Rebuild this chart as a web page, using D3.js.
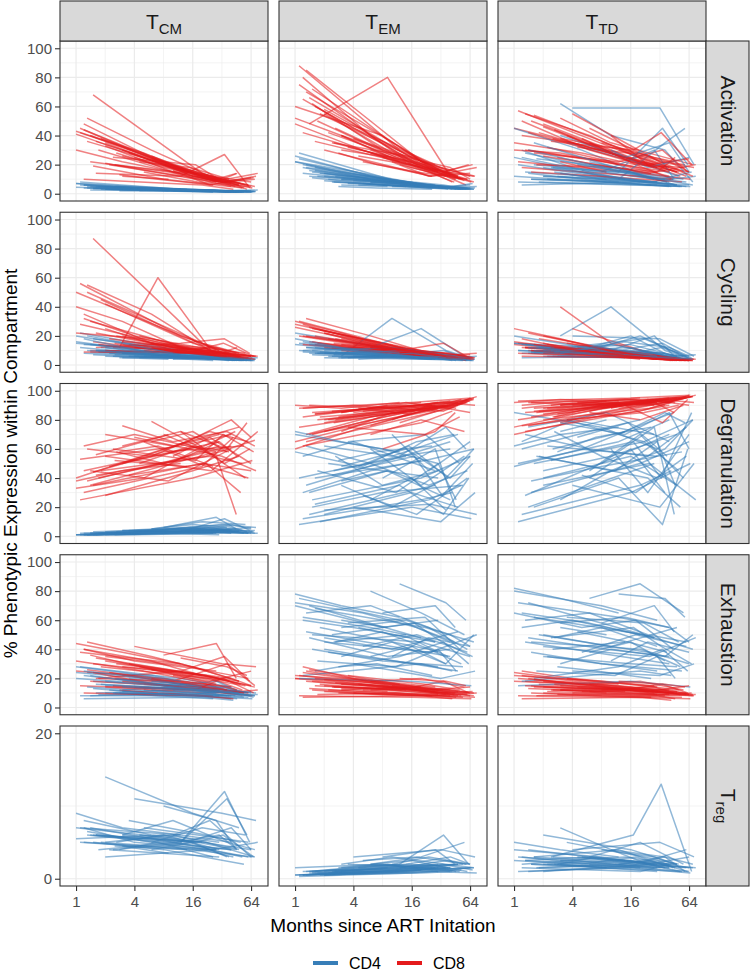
<!DOCTYPE html>
<html><head><meta charset="utf-8">
<script src="https://cdn.jsdelivr.net/npm/d3@7"></script>
<style>body{margin:0;background:#fff} svg{display:block} text{font-family:"Liberation Sans",Arial,sans-serif}</style>
</head><body><svg id="c" width="750" height="973"></svg>
<script>
// ---------- categories & ticks ----------
const compartments = ["CM", "EM", "TD"];
const phenotypes = ["Activation", "Cycling", "Degranulation", "Exhaustion", "Treg"];
const cellTypes = ["CD4", "CD8"];
const cellColors = ["#377EB8", "#E41A1C"];
const xTicks = [1, 4, 16, 64];
const xMinor = [2, 8, 32];
const yTicksPct = [0, 20, 40, 60, 80, 100];
const yMinorPct = [10, 30, 50, 70, 90];
const yTicksTreg = [0, 20];
const yMinorTreg = [10];

// months since ART initiation for each participant
const months = [
 [1.1,12,40],[1.3,6,24,60],[1.5,20,64],[1,8,30],[2,16,48],[1.2,4,28],[3,10,36,70],[1.8,24,52],
 [2.5,14],[1,5,18,44],[4,32,72],[1.4,9,40],[6,20,56],[2.2,30],[1.6,12,34,62],[3.5,22,50],
 [1.1,16,66],[8,28,45],[2.8,7,26],[1.3,40],[5,18,60],[12,36,58],[1.7,11,30,46],[2,25,75],
 [4.5,15,38],[1.2,20,42],[3,9],[10,24,64],[1.5,8,54],[2.4,17,33,68],
 [1.2,6,20],[2,10,48],[1.4,28],[3,14,40,64],[1,3,12],[6,16,36],[1.6,22,70],[2.6,8,30]
];

// ---------- Activation ----------
const activationCM_CD4 = [[8,3,2],[5,3,2,1.5],[4,2,1.5],[7,4,2],[3,2.5,1],[6,4,2],[4,3,2,1.5],[3,2,1],[5,3],[4.5,3,2,1.5],[3,2,1.5],[2.5,2,1],[4,2,1.5],[3,2],[5,3,2,1.5],[3,2,1],[6,2,1],[3,2,1.5],[2,2,1],[4,2],[3,2,1.5],[2.5,2,1.5],[5,3,2,1],[3,2,2.5],[2,2,1],[4,2,1.5],[3,2],[2,1.5,1],[3.5,2,1],[4,3,2,1.5],
 [6,3,2],[4,2,1.5],[5,2],[3,2,1.5,2],[7,5,3],[3,2,1.5],[4,2,1.5],[5,3,2]];
const activationCM_CD8 = [[42,18,8],[52,30,12,6],[68,14,5],[41,20,9],[35,12,6],[44,30,10],[30,18,8,10],[38,10,4],[20,14],[43,28,12,5],[25,8,12],[22,15,5],[26,12,6],[20,8],[14,12,27,4],[28,10,7],[45,12,4],[20,10,14],[13,10,6],[36,7],[15,8,5],[18,9,3],[30,14,9,14],[21,8,14],[22,18,10],[10,6,3],[12,10],[16,6,11],[19,10,4],[25,20,8,11],
 [48,25,12],[33,15,6],[40,8],[26,15,10,8],[30,22,14],[24,14,8],[36,12,5],[28,18,10]];
const activationEM_CD4 = [[28,8,4],[20,12,6,4],[15,6,3],[26,10,5],[12,7,4],[18,12,6],[10,8,5,3],[14,6,3],[8,5],[22,14,7,4],[9,5,4],[12,8,4],[8,6,3],[10,5],[16,9,6,3],[7,5,3],[24,6,3],[6,5,4],[5,4,3],[18,4],[7,5,3],[6,4,3],[12,8,5,3],[9,4,5],[6,5,3],[14,6,3],[6,5],[5,4,6],[11,6,3],[8,6,4,7],
 [20,10,5],[14,8,4],[16,5],[10,7,5,4],[22,15,8],[8,6,4],[18,6,3],[12,8,5]];
const activationEM_CD8 = [[88,30,15],[85,50,18,10],[72,22,12],[60,40,15],[58,25,12],[65,45,20],[40,25,15,12],[55,20,10],[35,22],[48,30,18,8],[38,18,12],[48,80,12],[30,18,9],[42,15],[36,22,15,20],[32,20,10],[75,20,8],[25,15,10],[28,20,12],[70,12],[22,15,10],[20,12,6],[50,25,15,10],[30,12,18],[26,20,12],[42,18,8],[30,25],[22,12,14],[62,30,10],[35,25,15,20],
 [80,40,18],[55,28,12],[66,15],[40,25,18,10],[52,40,22],[28,18,12],[60,18,8],[45,30,15]];
const activationTD_CD4 = [[20,10,6],[15,12,8,5],[10,8,6],[25,12,8],[12,10,6],[30,18,10],[62,40,30,8],[8,6,5],[18,10],[45,30,15,10],[59,59,20],[14,8,5],[22,15,10],[10,6],[20,15,45,20],[35,20,12],[8,6,5],[15,30,10],[12,10,6],[28,8],[16,12,8],[10,35,45],[24,18,10,6],[12,8,12],[20,15,8],[6,8,5],[14,10],[30,18,25],[10,8,5],[18,14,10,15],
 [25,15,8],[18,12,6],[30,10],[40,25,35,15],[12,10,8],[20,15,10],[35,12,6],[15,10,8]];
const activationTD_CD8 = [[57,30,18],[55,40,22,12],[50,22,15],[45,30,18],[48,25,15],[40,35,20],[52,35,25,20],[42,20,12],[38,25],[35,28,20,10],[55,22,18],[30,22,12],[45,28,15],[32,15],[28,22,30,15],[40,20,15],[22,15,10],[35,25,22],[25,20,14],[30,15],[38,20,18],[30,22,20],[20,18,15,25],[26,14,20],[32,28,18],[18,12,10],[22,15],[40,20,24],[15,12,8],[36,30,42,20],
 [50,30,20],[46,28,15],[42,18],[38,30,22,15],[30,28,20],[35,22,16],[54,25,12],[44,30,18]];

// ---------- Cycling ----------
const cyclingCM_CD4 = [[22,10,5],[20,12,6,4],[18,8,4],[15,10,6],[10,8,5],[14,12,6],[8,7,6,4],[12,6,3],[7,6],[16,10,6,3],[6,5,4],[9,6,4],[7,5,4],[8,5],[10,8,6,4],[6,5,3],[12,5,3],[6,5,4],[5,5,3],[10,4],[6,5,3],[5,4,3],[9,7,5,3],[6,4,5],[5,5,3],[8,5,3],[5,4],[4,5,3],[7,5,3],[6,5,4,3],
 [18,8,5],[12,6,4],[14,4],[8,6,5,4],[20,15,7],[6,5,4],[10,5,3],[9,7,5]];
const cyclingCM_CD8 = [[56,20,8],[55,35,10,5],[87,15,6],[50,25,10],[42,15,8],[32,20,10],[20,12,8,6],[45,10,5],[15,10],[22,18,10,5],[12,8,6],[10,9,7],[15,12,8],[18,8],[12,15,18,8],[14,10,6],[28,10,5],[10,12,8],[12,60,8],[50,6],[10,9,5],[12,8,4],[14,10,8,12],[10,8,6],[20,12,8],[9,8,4],[14,10],[8,10,6],[16,10,4],[12,10,15,6],
 [35,15,8],[25,10,5],[30,6],[16,12,8,6],[40,30,12],[12,8,6],[22,8,4],[20,14,8]];
const cyclingEM_CD4 = [[15,8,4],[12,10,6,3],[10,6,4],[22,12,6],[8,10,5],[10,12,6],[6,32,10,4],[9,6,4],[7,6],[14,10,8,4],[6,5,4],[8,6,4],[12,25,6],[6,5],[8,7,10,4],[5,6,4],[10,5,3],[6,8,5],[5,6,4],[12,4],[6,8,4],[10,6,4],[8,6,5,3],[5,4,6],[4,6,4],[9,6,3],[5,6],[6,4,5],[7,5,3],[6,5,6,3],
 [16,8,5],[10,12,6],[14,4],[8,10,6,5],[18,12,8],[6,8,5],[12,5,3],[9,7,5]];
const cyclingEM_CD8 = [[30,12,5],[32,20,8,4],[25,10,5],[28,15,6],[22,10,5],[20,15,8],[18,12,8,5],[24,8,4],[15,10],[26,16,8,4],[14,8,5],[16,10,6],[12,9,5],[18,6],[14,10,15,5],[12,8,5],[20,8,4],[10,8,5],[12,9,6],[20,5],[10,8,4],[12,6,3],[15,10,7,5],[12,6,8],[10,9,6],[14,8,4],[10,8],[8,6,7],[16,8,4],[12,10,8,5],
 [28,15,6],[22,10,5],[26,6],[14,10,8,5],[30,22,10],[12,10,6],[20,8,4],[18,12,7]];
const cyclingTD_CD4 = [[10,8,5],[12,10,8,4],[8,6,4],[15,12,6],[10,14,6],[8,10,5],[20,40,10,4],[12,8,5],[6,5],[15,10,8,4],[20,18,6],[8,7,5],[10,20,6],[6,5],[8,10,15,5],[12,18,8],[10,6,4],[8,20,6],[6,8,5],[14,5],[8,10,6],[10,8,4],[12,10,8,4],[6,5,7],[10,12,6],[5,6,4],[8,10],[6,8,5],[9,7,4],[10,8,12,5],
 [14,10,6],[10,14,6],[12,5],[8,16,12,6],[20,15,8],[12,20,8],[10,6,4],[9,12,6]];
const cyclingTD_CD8 = [[15,8,4],[12,10,5,3],[10,6,3],[14,8,4],[20,8,4],[12,10,5],[40,15,6,3],[18,6,3],[10,6],[16,10,6,3],[25,6,4],[10,8,4],[12,6,3],[14,5],[10,8,6,3],[15,7,4],[8,5,3],[8,6,4],[10,8,5],[12,4],[9,6,3],[8,5,3],[10,8,6,3],[8,5,4],[12,8,4],[6,5,3],[9,7],[8,6,3],[10,6,3],[12,9,6,3],
 [18,8,4],[15,7,3],[22,4],[10,8,5,3],[25,18,8],[9,6,4],[14,5,3],[12,8,4]];

// ---------- Degranulation ----------
const degranulationCM_CD4 = [[2,3,4],[1,2,3,2],[3,5,2],[1,2,1],[2,4,3],[1,1,2],[4,3,5,2],[2,6,4],[1,3],[1,2,4,3],[3,8,6],[2,4,2],[5,10,8],[2,4],[1,3,12,4],[4,6,3],[1,2,3],[6,13,5],[2,3,2],[1,4],[3,5,2],[4,7,3],[2,3,5,3],[1,3,2],[3,6,4],[2,2,3],[2,4],[5,4,6],[1,3,2],[2,4,6,3],
 [1,2,3],[3,5,4],[2,3],[4,6,8,5],[1,1,2],[5,8,6],[2,3,4],[3,4,3]];
const degranulationCM_CD8 = [[53,62,70],[60,55,72,65],[35,50,45],[40,60,70],[28,45,55],[62,70,58],[76,65,72,62],[45,55,50],[52,48],[33,40,60,72],[68,55,45],[45,38,60],[79,60,40],[48,65],[56,72,50,60],[42,50,30],[25,40,52],[70,55,15],[58,62,48],[38,62],[65,50,40],[72,60,78],[40,52,65,55],[55,45,72],[50,62,58],[30,48,68],[62,70],[55,68,50],[44,58,62],[60,52,70,58],
 [45,55,62],[70,62,75],[35,58],[50,65,80,68],[38,45,50],[65,72,58],[42,55,66],[58,50,62]];
const degranulationEM_CD4 = [[40,55,60],[62,50,35,45],[25,40,55],[70,60,50],[15,30,20],[55,65,45],[35,20,40,60],[10,25,35],[45,55],[58,48,65,70],[20,10,30],[30,45,25],[60,35,55],[50,40],[22,35,15,40],[65,70,50],[8,20,12],[40,60,20],[52,58,62],[35,65],[28,15,40],[55,75,60],[45,30,50,25],[18,22,15],[48,62,40],[12,25,30],[38,45],[70,45,65],[20,30,35],[42,55,28,50],
 [30,45,52],[62,55,70],[15,35],[48,60,40,55],[72,65,58],[25,40,18],[40,52,60],[55,35,45]];
const degranulationEM_CD8 = [[75,85,90],[70,82,88,92],[85,90,93],[65,80,88],[80,88,92],[88,90,86],[72,85,90,95],[82,88,94],[78,86],[60,75,85,90],[85,92,90],[90,88,93],[70,80,72],[80,88],[84,90,86,93],[75,70,82],[88,92,95],[60,72,85],[82,86,90],[65,88],[86,90,94],[78,88,92],[80,85,90,88],[72,86,96],[88,84,90],[62,78,86],[85,90],[80,90,85],[70,82,92],[86,90,88,94],
 [82,88,92],[78,86,90],[70,90],[85,92,88,95],[90,88,92],[76,84,90],[84,90,94],[80,86,92]];
const degranulationTD_CD4 = [[50,65,80],[70,60,55,75],[30,50,65],[85,75,60],[40,55,35],[65,80,70],[25,45,60,80],[55,40,20],[60,72],[48,60,75,85],[35,20,50],[75,85,65],[45,70,40],[62,55],[20,40,8,60],[80,65,45],[10,30,50],[50,75,15],[58,68,75],[28,70],[42,30,55],[70,85,78],[55,45,65,35],[35,50,25],[68,78,55],[15,35,45],[72,80],[60,30,70],[38,48,58],[52,65,40,85],
 [60,72,80],[45,55,70],[20,50],[78,70,85,60],[62,70,75],[40,60,30],[50,65,80],[72,55,40]];
const degranulationTD_CD8 = [[80,90,94],[85,88,92,95],[92,94,96],[75,88,92],[88,92,95],[90,93,90],[78,86,92,96],[86,92,95],[82,90],[70,80,88,93],[90,94,92],[92,90,95],[85,80,90],[88,92],[86,92,78,94],[80,85,90],[93,95,97],[88,92,85],[84,88,92],[72,90],[90,93,96],[88,92,95],[85,90,93,92],[80,88,97],[92,90,94],[76,86,92],[90,93],[88,94,90],[82,90,95],[90,94,92,96],
 [88,93,95],[84,90,94],[76,92],[90,94,92,97],[92,94,93],[86,92,90],[88,93,96],[82,90,94]];

// ---------- Exhaustion ----------
const exhaustionCM_CD4 = [[28,20,14],[24,22,15,10],[18,14,10],[20,16,12],[15,12,10],[22,18,12],[12,14,10,8],[16,12,8],[10,9],[24,20,14,8],[14,12,10],[8,10,6],[18,14,10],[12,8],[10,12,14,8],[20,15,10],[8,8,6],[15,18,12],[10,8,6],[14,8],[12,10,7],[16,14,10],[9,8,7,6],[10,8,9],[14,12,8],[6,7,5],[11,9],[12,10,11],[13,9,7],[10,9,12,7],
 [25,20,14],[18,14,10],[22,10],[14,12,10,8],[28,24,18],[12,10,8],[16,12,8],[20,16,12]];
const exhaustionCM_CD8 = [[38,30,20],[45,35,25,20],[30,22,15],[25,20,12],[35,28,18],[40,32,25],[22,18,30,15],[28,20,12],[20,16],[32,25,18,10],[42,30,28],[18,15,10],[26,20,15],[24,12],[20,25,35,18],[30,22,16],[15,12,8],[36,44,20],[12,10,8],[26,14],[16,14,10],[34,28,22],[20,18,15,12],[14,10,12],[28,22,18],[10,8,6],[18,15],[22,18,25],[24,15,10],[15,12,20,10],
 [40,32,22],[32,25,18],[36,16],[28,24,20,15],[44,38,30],[20,16,12],[34,22,14],[30,26,20]];
const exhaustionEM_CD4 = [[75,60,45],[65,70,55,40],[50,45,35],[70,55,60],[40,30,25],[60,55,45],[35,45,30,50],[55,40,30],[45,50],[72,65,55,45],[30,20,25],[48,35,40],[80,65,50],[38,28],[25,35,45,30],[58,62,40],[20,18,15],[65,70,55],[28,30,22],[52,35],[42,50,38],[85,72,60],[32,28,40,25],[45,38,50],[55,48,35],[22,30,25],[60,55],[35,48,42],[40,32,28],[50,58,45,35],
 [62,55,48],[48,40,52],[70,45],[55,60,50,42],[78,70,62],[35,42,30],[68,55,45],[45,52,38]];
const exhaustionEM_CD8 = [[22,15,12],[25,18,12,10],[18,12,8],[20,15,10],[15,12,8],[28,20,14],[12,14,10,8],[16,10,8],[14,12],[20,18,12,9],[10,8,7],[13,10,8],[18,20,14],[12,9],[15,12,18,10],[22,16,12],[8,7,6],[14,12,10],[10,9,8],[18,10],[12,14,9],[20,18,15],[9,10,8,7],[11,8,10],[16,12,10],[7,8,6],[13,11],[15,12,14],[12,9,7],[14,12,10,11],
 [24,18,14],[19,14,11],[26,12],[16,14,12,10],[22,20,16],[12,11,9],[20,14,10],[17,15,12]];
const exhaustionTD_CD4 = [[72,62,55],[60,65,50,45],[45,40,30],[80,70,60],[35,30,28],[55,60,48],[30,40,35,50],[50,38,28],[40,45],[65,55,60,40],[25,22,30],[48,40,35],[75,85,65],[35,25],[20,28,40,25],[62,58,45],[15,18,14],[58,70,52],[28,25,20],[45,30],[38,50,42],[78,75,62],[25,22,35,20],[42,35,48],[52,45,38],[18,25,22],[55,50],[32,45,38],[38,30,25],[48,55,42,30],
 [65,58,50],[50,42,55],[72,48],[58,62,55,45],[82,75,65],[38,45,32],[62,50,40],[48,55,42]];
const exhaustionTD_CD8 = [[20,15,12],[18,16,12,10],[15,12,9],[22,18,14],[14,12,10],[25,20,15],[12,13,10,8],[16,12,9],[12,11],[18,16,12,10],[10,9,8],[13,11,9],[16,18,12],[11,9],[14,12,16,10],[20,15,12],[8,7,6],[12,14,10],[9,8,7],[15,10],[11,12,9],[18,16,14],[8,9,8,6],[10,8,9],[14,12,10],[6,7,5],[12,10],[13,11,15],[10,8,7],[12,11,9,10],
 [22,17,13],[18,14,11],[20,10],[15,13,12,9],[24,20,16],[11,10,8],[19,13,9],[16,14,11]];

// ---------- Treg (CD4 only) ----------
const tregCM_CD4 = [[7,6,5],[6.5,5,4,3],[6,5,4],[5.5,6,4],[14,9,7],[7,5,4],[6,8,5,4],[5,4,3],[4.5,4],[7,6,5,4],[11,9,8],[6,5,4],[5,7,6],[4,3],[6,5,12,5],[8,6,5],[5,4,3],[10,8,4],[4,5,3],[6,4],[7,6,5],[5,11,6],[4,5,6,4],[3,4,5],[6,5,3],[5,4,3],[4.5,3.5],[6,8,3],[5,4,2],[4,5,6,3],
 [8,6,5],[5,6,4],[7,4],[6,5,7,4],[9,7,6],[4,5,3],[6,5,3],[5,6,5]];
const tregEM_CD4 = [[0.5,1,1.5],[1,1.5,2,1],[0.8,1.2,1.5],[1.5,2,1],[0.5,1,2],[1,1.2,1.5],[2,3,2,1.5],[0.5,1,1.2],[1,1.5],[0.5,0.8,1.5,2],[3,4,3],[1,2,1],[2,3,5],[0.8,1.5],[1,2,6,2],[2,1.5,1],[0.3,0.8,1.5],[3,4,2],[1.5,2,1.5],[0.5,1.5],[2.5,3,2],[1.5,2.5,2],[0.8,1,1.5,1],[0.5,1,0.8],[1.5,2,1.5],[0.5,0.8,1],[1,1.5],[2,3,2],[1,1.5,2],[1,1.5,2,1.2],
 [0.5,1,1.2],[1,1.5,2],[0.8,1.5],[1.5,2,3,2],[0.5,0.8,1],[2,2.5,1.5],[0.6,1.2,1.5],[1,1.5,2]];
const tregTD_CD4 = [[3,2,1.5],[2.5,3,2,1.5],[2,1.5,1],[4,3,2],[6,4,2],[2,2.5,1.5],[7,4,3,2],[1.5,2,1],[3,2.5],[2.5,2,3,1.5],[4,5,3],[1,1.5,2],[3,5,2],[2,1.5],[3,4,2,1],[5,3,2],[1,1.5,0.8],[4,3,2],[2,3,2],[2.5,1.5],[3,2,4],[2,3,1],[1.5,2,2.5,1.5],[1,2,1.5],[3,2.5,2],[1.5,1,2],[2,1.5],[4,2,3],[2,1.5,1],[3,6,13,1],
 [3,2,1.5],[2,2.5,2],[4,2],[2.5,3,2,1.5],[5,4,3],[2,2.5,1.5],[3,2,1.5],[2,1.5,1]];

const series = {
  Activation:    {CM:[activationCM_CD4, activationCM_CD8], EM:[activationEM_CD4, activationEM_CD8], TD:[activationTD_CD4, activationTD_CD8]},
  Cycling:       {CM:[cyclingCM_CD4, cyclingCM_CD8], EM:[cyclingEM_CD4, cyclingEM_CD8], TD:[cyclingTD_CD4, cyclingTD_CD8]},
  Degranulation: {CM:[degranulationCM_CD4, degranulationCM_CD8], EM:[degranulationEM_CD4, degranulationEM_CD8], TD:[degranulationTD_CD4, degranulationTD_CD8]},
  Exhaustion:    {CM:[exhaustionCM_CD4, exhaustionCM_CD8], EM:[exhaustionEM_CD4, exhaustionEM_CD8], TD:[exhaustionTD_CD4, exhaustionTD_CD8]},
  Treg:          {CM:[tregCM_CD4, null], EM:[tregEM_CD4, null], TD:[tregTD_CD4, null]}
};

// ---------- layout ----------
const svg = d3.select("#c");
const panelX = [60, 279, 498], panelW = 208, panelH = 160;
const rowY = r => 41 + r * 171.25;
const stripR = [706, 749];
const xDomain = [Math.pow(2, -0.55), Math.pow(2, 6.58)];

svg.append("rect").attr("width", 750).attr("height", 973).attr("fill", "#fff");

phenotypes.forEach((ph, r) => {
  const y0 = rowY(r);
  const isTreg = ph === "Treg";
  const y = d3.scaleLinear().domain(isTreg ? [-1, 21] : [-5, 105]).range([y0 + panelH, y0]);
  const yT = isTreg ? yTicksTreg : yTicksPct;
  const yM = isTreg ? yMinorTreg : yMinorPct;
  compartments.forEach((cp, c) => {
    const x0 = panelX[c];
    const x = d3.scaleLog().base(2).domain(xDomain).range([x0, x0 + panelW]);
    const g = svg.append("g");
    const clipId = `clip-${r}-${c}`;
    g.append("clipPath").attr("id", clipId).append("rect")
      .attr("x", x0).attr("y", y0).attr("width", panelW).attr("height", panelH);
    g.append("rect").attr("x", x0).attr("y", y0).attr("width", panelW).attr("height", panelH).attr("fill", "#fff");
    // minor grid
    g.selectAll(".vminor").data(xMinor).join("line")
      .attr("x1", d => x(d)).attr("x2", d => x(d)).attr("y1", y0).attr("y2", y0 + panelH)
      .attr("stroke", "#EBEBEB").attr("stroke-width", 0.6);
    g.selectAll(".hminor").data(yM).join("line")
      .attr("y1", d => y(d)).attr("y2", d => y(d)).attr("x1", x0).attr("x2", x0 + panelW)
      .attr("stroke", "#EBEBEB").attr("stroke-width", 0.6);
    // major grid
    g.selectAll(".vmajor").data(xTicks).join("line")
      .attr("x1", d => x(d)).attr("x2", d => x(d)).attr("y1", y0).attr("y2", y0 + panelH)
      .attr("stroke", "#EBEBEB").attr("stroke-width", 1.2);
    g.selectAll(".hmajor").data(yT).join("line")
      .attr("y1", d => y(d)).attr("y2", d => y(d)).attr("x1", x0).attr("x2", x0 + panelW)
      .attr("stroke", "#EBEBEB").attr("stroke-width", 1.2);
    // lines, interleaved by participant
    const line = d3.line().x(d => x(d[0])).y(d => y(d[1]));
    const sets = series[ph][cp];
    const lg = g.append("g").attr("clip-path", `url(#${clipId})`);
    months.forEach((t, i) => {
      cellTypes.forEach((ct, k) => {
        const vals = sets[k];
        if (!vals) return;
        const pts = t.map((m, j) => [m, vals[i][j]]);
        lg.append("path").attr("d", line(pts)).attr("fill", "none")
          .attr("stroke", cellColors[k]).attr("stroke-width", 1.5).attr("stroke-opacity", 0.55)
          .attr("stroke-linejoin", "round");
      });
    });
    // border
    g.append("rect").attr("x", x0).attr("y", y0).attr("width", panelW).attr("height", panelH)
      .attr("fill", "none").attr("stroke", "#333333").attr("stroke-width", 1.1);
    // axes
    if (c === 0) {
      const ax = g.append("g").attr("transform", `translate(${x0},0)`)
        .call(d3.axisLeft(y).tickValues(yT).tickSize(5).tickPadding(3).tickFormat(d3.format("d")));
      ax.select(".domain").remove();
      ax.selectAll(".tick line").attr("stroke", "#333333").attr("stroke-width", 1.1);
      ax.selectAll(".tick text").attr("fill", "#4D4D4D").style("font-size", "15px")
        .style("font-family", "'Liberation Sans', Arial, sans-serif");
    }
    if (r === phenotypes.length - 1) {
      const ax = g.append("g").attr("transform", `translate(0,${y0 + panelH})`)
        .call(d3.axisBottom(x).tickValues(xTicks).tickSize(5).tickPadding(5).tickFormat(d3.format("d")));
      ax.select(".domain").remove();
      ax.selectAll(".tick line").attr("stroke", "#333333").attr("stroke-width", 1.1);
      ax.selectAll(".tick text").attr("fill", "#4D4D4D").style("font-size", "15px")
        .style("font-family", "'Liberation Sans', Arial, sans-serif");
    }
    // top strips
    if (r === 0) {
      svg.append("rect").attr("x", x0).attr("y", 1).attr("width", panelW).attr("height", 40)
        .attr("fill", "#D9D9D9").attr("stroke", "#333333").attr("stroke-width", 1.1);
      const tt = svg.append("text").attr("x", x0 + panelW / 2).attr("y", 29)
        .attr("text-anchor", "middle").attr("fill", "#1A1A1A").style("font-size", "21px");
      tt.append("tspan").text("T");
      tt.append("tspan").attr("dy", 5).style("font-size", "15px").text(cp);
    }
  });
  // right strips
  svg.append("rect").attr("x", stripR[0]).attr("y", y0).attr("width", stripR[1] - stripR[0]).attr("height", panelH)
    .attr("fill", "#D9D9D9").attr("stroke", "#333333").attr("stroke-width", 1.1);
  const cx = (stripR[0] + stripR[1]) / 2, cy = y0 + panelH / 2;
  const st = svg.append("text").attr("transform", `translate(${cx - 7},${cy}) rotate(90)`)
    .attr("text-anchor", "middle").attr("fill", "#1A1A1A").style("font-size", "21px");
  if (isTreg) {
    st.append("tspan").text("T");
    st.append("tspan").attr("dy", 5).style("font-size", "15px").text("reg");
  } else {
    st.text(ph);
  }
});

// axis titles
svg.append("text").attr("transform", `translate(17,${(41 + rowY(4) + panelH) / 2}) rotate(-90)`)
  .attr("text-anchor", "middle").attr("fill", "#000").style("font-size", "19px")
  .text("% Phenotypic Expression within Compartment");
svg.append("text").attr("x", (panelX[0] + panelX[2] + panelW) / 2).attr("y", 932)
  .attr("text-anchor", "middle").attr("fill", "#000").style("font-size", "19px")
  .text("Months since ART Initation");

// legend
const legend = svg.append("g").attr("transform", "translate(313,963)");
const legendX = [0, 84];
cellTypes.forEach((ct, k) => {
  const lg = legend.append("g").attr("transform", `translate(${legendX[k]},0)`);
  lg.append("line").attr("x1", 0).attr("x2", 25).attr("y1", 0).attr("y2", 0)
    .attr("stroke", cellColors[k]).attr("stroke-width", 4);
  lg.append("text").attr("x", 36).attr("y", 6).attr("fill", "#000").style("font-size", "16px").text(ct);
});
</script></body></html>
